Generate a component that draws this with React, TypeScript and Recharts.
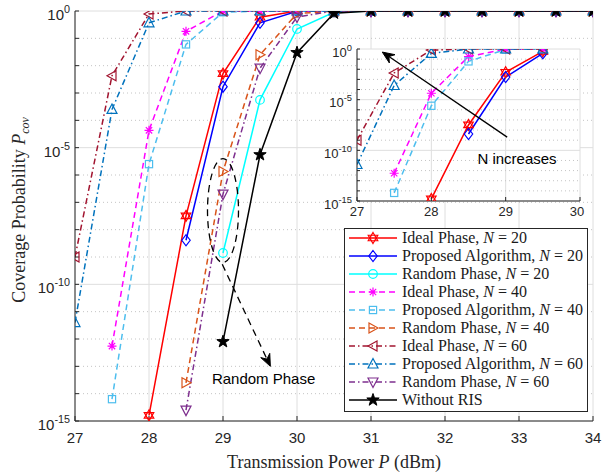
// Coverage probability vs. transmission power, RIS phase configurations. Log y axis, MATLAB look.
import React from "react";
import {
  LineChart, Line, XAxis, YAxis, CartesianGrid, ReferenceLine, ReferenceDot, Legend,
} from "recharts";

const POWER = [27, 27.5, 28, 28.5, 29, 29.5, 30, 30.5, 31, 31.5, 32, 32.5, 33, 33.5, 34];

const IDEAL_20 = [null, null, 1.6e-15, 3.2e-8, 5.1e-3, 0.59, 1, 1, 1, 1, 1, 1, 1, 1, 1];
const PROP_20 = [null, null, null, 4.1e-9, 1.7e-3, 0.37, 0.97, 1, 1, 1, 1, 1, 1, 1, 1];
const RAND_20 = [null, null, null, null, 1.4e-9, 5.6e-4, 0.22, 0.9, 1, 1, 1, 1, 1, 1, 1];
const IDEAL_40 = [null, 5.5e-13, 4.3e-5, 0.18, 1, 1, 1, 1, 1, 1, 1, 1, 1, 1, 1];
const PROP_40 = [null, 6.3e-15, 2.5e-6, 0.06, 0.9, 1, 1, 1, 1, 1, 1, 1, 1, 1, 1];
const RAND_40 = [null, null, null, 2.5e-14, 1.35e-6, 0.025, 0.8, 1, 1, 1, 1, 1, 1, 1, 1];
const IDEAL_60 = [1e-9, 4.3e-3, 0.78, 1, 1, 1, 1, 1, 1, 1, 1, 1, 1, 1, 1];
const PROP_60 = [4e-12, 2.5e-4, 0.37, 1, 1, 1, 1, 1, 1, 1, 1, 1, 1, 1, 1];
const RAND_60 = [null, null, null, 2.5e-15, 2e-7, 8.1e-3, 0.6, 1, 1, 1, 1, 1, 1, 1, 1];
const NO_RIS = [null, null, null, null, 8e-13, 5.5e-6, 0.03, 0.83, 1, 1, 1, 1, 1, 1, 1];

const X_TICKS = [27, 28, 29, 30, 31, 32, 33, 34];
const INSET_X_TICKS = [27, 28, 29, 30];
const DECADES = [1e-15, 1e-14, 1e-13, 1e-12, 1e-11, 1e-10, 1e-9, 1e-8, 1e-7, 1e-6, 1e-5, 1e-4, 1e-3, 1e-2, 1e-1, 1];
const MAJOR = [1e-15, 1e-10, 1e-5, 1];

const DASH = "6 4";
const DASHDOT = "6 3 1.5 3";
const AXIS = "#262626";
const GRID = "#dedede";
const MINOR = "#c4c4c4";
const SANS = "'Liberation Sans', Arial, sans-serif";
const SERIF = "'Liberation Serif', 'Times New Roman', serif";

type Kind = "hexagram" | "diamond" | "circle" | "asterisk" | "square" | "right" | "left" | "up" | "down" | "pentagram";
type S = { key: string; label: string; n?: number; color: string; dash?: string; marker: Kind; inset: boolean; values: (number | null)[] };

const SERIES: S[] = [
  { key: "ideal20", label: "Ideal Phase", n: 20, color: "#FF0000", marker: "hexagram", inset: true, values: IDEAL_20 },
  { key: "prop20", label: "Proposed Algorithm", n: 20, color: "#0000FF", marker: "diamond", inset: true, values: PROP_20 },
  { key: "rand20", label: "Random Phase", n: 20, color: "#00FFFF", marker: "circle", inset: false, values: RAND_20 },
  { key: "ideal40", label: "Ideal Phase", n: 40, color: "#FF00FF", dash: DASH, marker: "asterisk", inset: true, values: IDEAL_40 },
  { key: "prop40", label: "Proposed Algorithm", n: 40, color: "#4DBEEE", dash: DASH, marker: "square", inset: true, values: PROP_40 },
  { key: "rand40", label: "Random Phase", n: 40, color: "#D95319", dash: DASH, marker: "right", inset: false, values: RAND_40 },
  { key: "ideal60", label: "Ideal Phase", n: 60, color: "#A2142F", dash: DASHDOT, marker: "left", inset: true, values: IDEAL_60 },
  { key: "prop60", label: "Proposed Algorithm", n: 60, color: "#0072BD", dash: DASHDOT, marker: "up", inset: true, values: PROP_60 },
  { key: "rand60", label: "Random Phase", n: 60, color: "#7E2F8E", dash: DASHDOT, marker: "down", inset: false, values: RAND_60 },
  { key: "noris", label: "Without RIS", color: "#000000", marker: "pentagram", inset: false, values: NO_RIS },
];

const rows = POWER.map((p, i) => {
  const r: Record<string, number | null> = { p };
  SERIES.forEach((s) => { r[s.key] = s.values[i]; });
  return r;
});
const insetRows = rows.filter((r) => (r.p as number) <= 29.5);

const poly = (pts: number[][], x: number, y: number) => pts.map(([a, b]) => `${x + a},${y + b}`).join(" ");

function Marker({ kind, x, y, color }: { kind: Kind; x: number; y: number; color: string }) {
  const st = { stroke: color, strokeWidth: 1.2, fill: "none" } as const;
  switch (kind) {
    case "hexagram": {
      const r = 5.5, h = r * 0.866;
      return (
        <g>
          <polygon points={poly([[0, -r], [h, r / 2], [-h, r / 2]], x, y)} {...st} />
          <polygon points={poly([[0, r], [h, -r / 2], [-h, -r / 2]], x, y)} {...st} />
        </g>
      );
    }
    case "diamond": return <polygon points={poly([[0, -5.5], [4.2, 0], [0, 5.5], [-4.2, 0]], x, y)} {...st} />;
    case "circle": return <circle cx={x} cy={y} r={4.3} {...st} />;
    case "square": return <rect x={x - 3.6} y={y - 3.6} width={7.2} height={7.2} {...st} />;
    case "asterisk": {
      const r = 4.5, d = r * 0.707;
      return (
        <path d={`M${x - r},${y}H${x + r}M${x},${y - r}V${y + r}M${x - d},${y - d}L${x + d},${y + d}M${x - d},${y + d}L${x + d},${y - d}`} {...st} />
      );
    }
    case "right": return <polygon points={poly([[5, 0], [-4, -5], [-4, 5]], x, y)} {...st} />;
    case "left": return <polygon points={poly([[-5, 0], [4, -5], [4, 5]], x, y)} {...st} />;
    case "up": return <polygon points={poly([[0, -5.5], [5, 4], [-5, 4]], x, y)} {...st} />;
    case "down": return <polygon points={poly([[0, 5.5], [5, -4], [-5, -4]], x, y)} {...st} />;
    case "pentagram": {
      const pts: number[][] = [];
      for (let k = 0; k < 10; k++) {
        const a = -Math.PI / 2 + (k * Math.PI) / 5;
        const rr = k % 2 === 0 ? 6.5 : 2.6;
        pts.push([rr * Math.cos(a), rr * Math.sin(a)]);
      }
      return <polygon points={poly(pts, x, y)} stroke={color} strokeWidth={1} fill={color} />;
    }
  }
  return null;
}

const dotFor = (s: S) => (p: { cx?: number; cy?: number; index?: number; value?: unknown }) => {
  if (p.cx == null || p.cy == null || p.value == null || Number.isNaN(p.cy)) return <g key={`${s.key}-${p.index}`} />;
  return <g key={`${s.key}-${p.index}`}><Marker kind={s.marker} x={p.cx} y={p.cy} color={s.color} /></g>;
};

// 10^k labels, only on multiples of 5; other decades get a bare minor tick
function LogTick(props: { x?: number; y?: number; payload?: { value: number }; fs: number }) {
  const { x = 0, y = 0, payload, fs } = props;
  const e = Math.round(Math.log10(payload?.value ?? 1));
  if (e % 5 !== 0) return <g />;
  return (
    <text x={x} y={y + fs * 0.6} textAnchor="end" fontFamily={SANS} fontSize={fs} fill={AXIS}>
      10<tspan dy={-fs * 0.47} fontSize={fs * 0.72}>{e === 0 ? "0" : `-${-e}`}</tspan>
    </text>
  );
}

function NumTick(props: { x?: number; y?: number; payload?: { value: number }; fs: number }) {
  const { x = 0, y = 0, payload, fs } = props;
  return <text x={x} y={y} dy="0.71em" textAnchor="middle" fontFamily={SANS} fontSize={fs} fill={AXIS}>{payload?.value}</text>;
}

function arrowShape(dashed: boolean) {
  return (p: { x1?: number; y1?: number; x2?: number; y2?: number }) => {
    const x1 = p.x1 ?? 0, y1 = p.y1 ?? 0, x2 = p.x2 ?? 0, y2 = p.y2 ?? 0;
    const len = Math.hypot(x2 - x1, y2 - y1) || 1;
    const ux = (x2 - x1) / len, uy = (y2 - y1) / len;
    const L = 12, W = 5, notch = 8;
    const bx = x2 - ux * L, by = y2 - uy * L;
    const nx = x2 - ux * notch, ny = y2 - uy * notch;
    const head = `${x2},${y2} ${bx - uy * W},${by + ux * W} ${nx},${ny} ${bx + uy * W},${by - ux * W}`;
    return (
      <g>
        <line x1={x1} y1={y1} x2={nx} y2={ny} stroke="#000" strokeWidth={1.3} strokeDasharray={dashed ? "7 5" : undefined} />
        <polygon points={head} fill="#000" stroke="#000" strokeWidth={1} />
      </g>
    );
  };
}

function LegendBox() {
  return (
    <div style={{
      width: 244, height: 184, boxSizing: "border-box", border: `1px solid ${AXIS}`, background: "#fff",
      padding: "0 0 0 4px", fontFamily: SERIF, fontSize: 16, fontWeight: 400, color: "#1a1a1a", lineHeight: "18px",
    }}>
      {SERIES.map((s) => (
        <div key={s.key} style={{ display: "flex", alignItems: "center", height: 18, whiteSpace: "nowrap" }}>
          <svg width={48} height={18} style={{ flex: "none" }}>
            <line x1={0} x2={48} y1={9} y2={9} stroke={s.color} strokeWidth={1.5} strokeDasharray={s.dash} />
            <Marker kind={s.marker} x={24} y={9} color={s.color} />
          </svg>
          <span style={{ marginLeft: 5, fontWeight: 400 }}>
            {s.label}{s.n != null && <>, <i>N</i> = {s.n}</>}
          </span>
        </div>
      ))}
    </div>
  );
}

function XTitle({ viewBox }: { viewBox?: { x: number; y: number; width: number; height: number } }) {
  const vb = viewBox ?? { x: 0, y: 0, width: 0, height: 0 };
  return (
    <text x={vb.x + vb.width / 2} y={vb.y + 47} textAnchor="middle" fontFamily={SERIF} fontSize={18} fill={AXIS}>
      Transmission Power <tspan fontStyle="italic">P</tspan> (dBm)
    </text>
  );
}

function YTitle({ viewBox }: { viewBox?: { x: number; y: number; width: number; height: number } }) {
  const vb = viewBox ?? { x: 0, y: 0, width: 0, height: 0 };
  const cx = 25, cy = vb.y + vb.height / 2 - 6;
  return (
    <text x={cx} y={cy} transform={`rotate(-90 ${cx} ${cy})`} textAnchor="middle" fontFamily={SERIF} fontSize={18} fill={AXIS}>
      Coverage Probability <tspan fontStyle="italic">P</tspan>
      <tspan fontStyle="italic" fontSize={12} dy={4}>cov</tspan>
    </text>
  );
}

function seriesLines(list: S[]) {
  return list.map((s) => (
    <Line key={s.key} type="linear" dataKey={s.key} name={s.key} stroke={s.color} strokeWidth={1.5}
      strokeDasharray={s.dash} dot={dotFor(s)} activeDot={false} isAnimationActive={false} connectNulls={false} />
  ));
}

export default function App() {
  return (
    <div style={{ position: "absolute", left: 0, top: 0, width: 605, height: 474, background: "#fff" }}>
      <LineChart width={605} height={474} data={rows} margin={{ top: 11, right: 12, bottom: 23, left: 15 }}>
        <CartesianGrid stroke={GRID} horizontal={false} />
        {DECADES.map((d) => (
          <ReferenceLine key={d} y={d} stroke={MAJOR.includes(d) ? GRID : MINOR} strokeWidth={1}
            strokeDasharray={MAJOR.includes(d) ? undefined : "1 3"} />
        ))}
        <XAxis dataKey="p" type="number" domain={[27, 34]} ticks={X_TICKS} allowDataOverflow height={30}
          stroke={AXIS} tickSize={-5} tickMargin={16} tick={<NumTick fs={15} />} label={{ content: (p: any) => <XTitle viewBox={p.viewBox} /> }} />
        <XAxis xAxisId="top" orientation="top" type="number" domain={[27, 34]} ticks={X_TICKS} allowDataOverflow
          mirror height={0} stroke={AXIS} tickSize={5} tick={false} />
        <YAxis scale="log" type="number" domain={[1e-15, 1]} ticks={DECADES} allowDataOverflow width={60}
          stroke={AXIS} tickSize={-4} tickMargin={9} tick={<LogTick fs={15} />} interval={0}
          label={{ content: (p: any) => <YTitle viewBox={p.viewBox} /> }} />
        <YAxis yAxisId="right" orientation="right" scale="log" type="number" domain={[1e-15, 1]} ticks={DECADES}
          allowDataOverflow mirror width={0} stroke={AXIS} tickSize={4} tick={false} interval={0} />
        {seriesLines(SERIES)}
        <ReferenceDot x={29} y={5e-8} r={0} ifOverflow="visible"
          shape={(p: any) => <ellipse cx={p.cx} cy={p.cy} rx={15.5} ry={52} fill="none" stroke="#000" strokeWidth={1.3} strokeDasharray="7 5" />} />
        <ReferenceLine segment={[{ x: 28.99, y: 5.4e-10 }, { x: 29.64, y: 1e-13 }]} ifOverflow="visible" shape={arrowShape(true)} />
        <ReferenceDot x={28.85} y={2.2e-14} r={0} ifOverflow="visible"
          shape={(p: any) => <text x={p.cx} y={p.cy} fontFamily={SANS} fontSize={15} fill="#000">Random Phase</text>} />
        <Legend layout="vertical" align="center" verticalAlign="middle"
          wrapperStyle={{ left: 344, top: 228, width: 244, height: 184 }} content={() => <LegendBox />} />
      </LineChart>

      <div style={{ position: "absolute", left: 300, top: 40 }}>
        <LineChart width={285} height={185} data={insetRows} margin={{ top: 9, right: 5, bottom: 4, left: 0 }}>
          <CartesianGrid stroke={GRID} horizontal={false} fill="#fff" />
          {DECADES.map((d) => (
            <ReferenceLine key={d} y={d} stroke={MAJOR.includes(d) ? GRID : MINOR} strokeWidth={1}
              strokeDasharray={MAJOR.includes(d) ? undefined : "1 3"} />
          ))}
          <XAxis dataKey="p" type="number" domain={[27, 30]} ticks={INSET_X_TICKS} allowDataOverflow height={20}
            stroke={AXIS} tickSize={-4} tickMargin={10} tick={<NumTick fs={13} />} />
          <XAxis xAxisId="top" orientation="top" type="number" domain={[27, 30]} ticks={INSET_X_TICKS} allowDataOverflow
            mirror height={0} stroke={AXIS} tickSize={4} tick={false} />
          <YAxis scale="log" type="number" domain={[1e-15, 1]} ticks={DECADES} allowDataOverflow width={57}
            stroke={AXIS} tickSize={-3} tickMargin={8} tick={<LogTick fs={13} />} interval={0} />
          <YAxis yAxisId="right" orientation="right" scale="log" type="number" domain={[1e-15, 1]} ticks={DECADES}
            allowDataOverflow mirror width={0} stroke={AXIS} tickSize={3} tick={false} interval={0} />
          {seriesLines(SERIES.filter((s) => s.inset))}
          <ReferenceLine segment={[{ x: 29.02, y: 2e-9 }, { x: 27.34, y: 0.5 }]} ifOverflow="visible" shape={arrowShape(false)} />
          <ReferenceDot x={28.62} y={4e-12} r={0} ifOverflow="visible"
            shape={(p: any) => <text x={p.cx} y={p.cy} fontFamily={SANS} fontSize={15} fill="#000">N increases</text>} />
        </LineChart>
      </div>
    </div>
  );
}
